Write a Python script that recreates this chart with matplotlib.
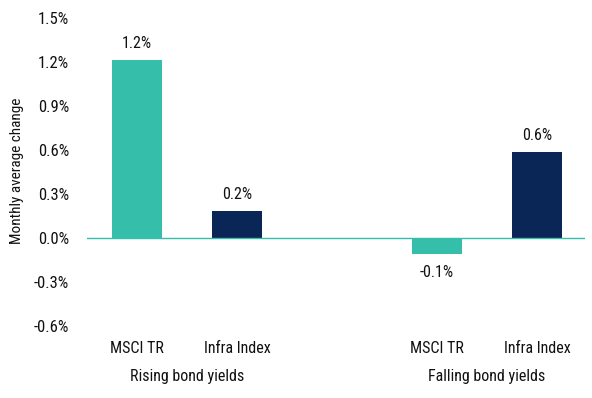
import numpy as np
import matplotlib
matplotlib.use("Agg")
from matplotlib import pyplot as plt
from matplotlib.ticker import FuncFormatter
import matplotlib.transforms as mtransforms

plt.rcParams['font.family'] = ['Roboto Condensed', 'Liberation Sans', 'DejaVu Sans']

groups = ["Rising bond yields", "Falling bond yields"]
series = ["MSCI TR", "Infra Index"]
msci = [1.21, -0.11]
infra = [0.184, 0.586]
yticks = [-0.6, -0.3, 0.0, 0.3, 0.6, 0.9, 1.2, 1.5]

teal = "#35BEAA"
navy = "#0A2656"
txt = "#111111"

fig = plt.figure(figsize=(5.92, 3.98), dpi=100)
ax = fig.add_axes([0.147, 0.181, 0.841, 0.774])

pos_msci = np.array([0, 3])
pos_infra = pos_msci + 1
b1 = ax.bar(pos_msci, msci, width=0.5, color=teal, zorder=2)
b2 = ax.bar(pos_infra, infra, width=0.5, color=navy, zorder=2)

for bars, vals in [(b1, msci), (b2, infra)]:
    for rect, v in zip(bars, vals):
        x = rect.get_x() + rect.get_width() / 2
        off = 12 if v >= 0 else -13
        ax.annotate("%.1f%%" % v, (x, v), xytext=(0, off), textcoords="offset points",
                    ha="center", va="center", fontsize=11.5, color=txt)

ax.axhline(0, color=teal, linewidth=1, zorder=3)

ax.set_xlim(-0.5, 4.48)
ax.set_ylim(-0.6, 1.5)
ax.set_yticks(yticks)
ax.yaxis.set_major_formatter(FuncFormatter(lambda v, p: "%.1f%%" % v))
ticks = sorted(list(pos_msci) + list(pos_infra))
ax.set_xticks(ticks)
ax.set_xticklabels([series[0], series[1], series[0], series[1]])
ax.tick_params(axis="both", length=0, labelsize=11.5, colors=txt)
ax.tick_params(axis="y", pad=13, labelsize=12)
ax.tick_params(axis="x", pad=11)
for s in ax.spines.values():
    s.set_visible(False)

trans = mtransforms.blended_transform_factory(ax.transData, fig.transFigure)
for i, g in enumerate(groups):
    ax.text((pos_msci[i] + pos_infra[i]) / 2, 1 - 377 / 398, g, transform=trans,
            ha="center", va="center", fontsize=11.5, color=txt)

fig.text(17 / 592, 1 - 171 / 398, "Monthly average change", rotation=90, ha="center", va="center",
         fontsize=11, color=txt)

fig.savefig("out.png", dpi=100)
